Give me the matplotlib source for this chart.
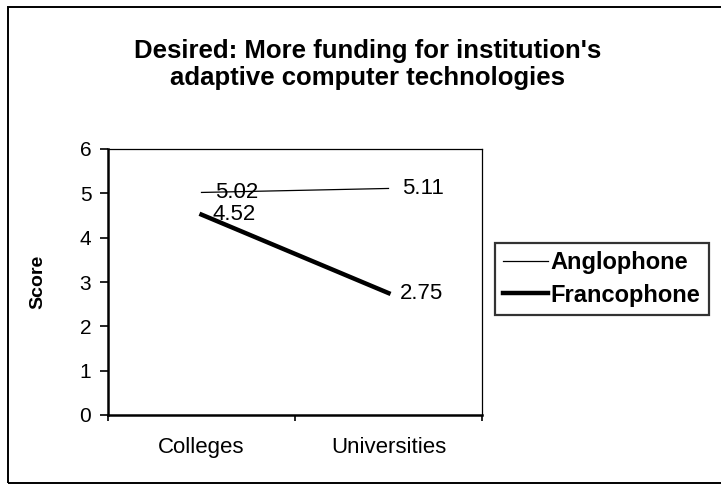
import matplotlib
matplotlib.use('Agg')
import matplotlib.pyplot as plt
from matplotlib.patches import Rectangle

plt.rcParams['font.family'] = ['Liberation Sans', 'DejaVu Sans']

categories = ['Colleges', 'Universities']
anglophone = [5.02, 5.11]
francophone = [4.52, 2.75]
yticks = [0, 1, 2, 3, 4, 5, 6]

W, H = 721, 488
fig = plt.figure(figsize=(W / 100, H / 100), dpi=100)
# outer chart-area frame (right edge is cut off in the scan)
fig.patches.append(Rectangle((8 / W, 1 - 483 / H), 720 / W, (483 - 7) / H,
                             transform=fig.transFigure, fill=False,
                             edgecolor='black', lw=1.4))

# plot area: x 108..482, y 149..415 px
ax = fig.add_axes([108 / W, 1 - 415 / H, 374 / W, 266 / H])
xs = [0.5, 1.5]
ax.plot(xs, anglophone, color='black', lw=0.9, label='Anglophone')
ax.plot(xs, francophone, color='black', lw=3.2, label='Francophone')

for x, v in zip(xs, anglophone):
    ax.annotate(f'{v:.2f}', (x, v), xytext=(10, 0), textcoords='offset points',
                va='center', ha='left', fontsize=16)
for x, v in zip(xs, francophone):
    ax.annotate(f'{v:.2f}', (x, v), xytext=(8, 0), textcoords='offset points',
                va='center', ha='left', fontsize=16)

ax.set_xlim(0, 2)
ax.set_ylim(0, 6)
ax.set_yticks(yticks)
ax.set_xticks([0, 1, 2])
ax.set_xticklabels([])
ax.set_xticks(xs, minor=True)
ax.set_xticklabels(categories, minor=True, fontsize=16)
ax.tick_params(axis='x', which='minor', length=0, pad=16)
ax.tick_params(axis='x', which='major', direction='out', length=4, width=1.2)
ax.tick_params(axis='y', direction='out', length=6, width=1.2, labelsize=15, pad=6)
for s in ['top', 'right']:
    ax.spines[s].set_linewidth(0.9)
for s in ['left', 'bottom']:
    ax.spines[s].set_linewidth(1.8)
ax.set_ylabel('Score', fontsize=14, fontweight='bold')
ax.yaxis.set_label_coords(-0.165, 0.5)

title_x = 368 / W
fig.text(title_x, 1 - 58 / H, "Desired: More funding for institution's",
         ha='center', va='baseline', fontsize=18.5, fontweight='bold')
fig.text(title_x, 1 - 85 / H, "adaptive computer technologies",
         ha='center', va='baseline', fontsize=18.5, fontweight='bold')

leg = fig.legend(loc='upper left', bbox_to_anchor=(495 / W, 1 - 243 / H), fontsize=17,
                 frameon=True, fancybox=False, edgecolor='black', handlelength=1.9,
                 handletextpad=0.1, borderpad=0.35, labelspacing=0.4, borderaxespad=0)
leg.get_frame().set_linewidth(1.6)
for t in leg.get_texts():
    t.set_fontweight('bold')

fig.savefig('out.png', dpi=100, facecolor='white')
